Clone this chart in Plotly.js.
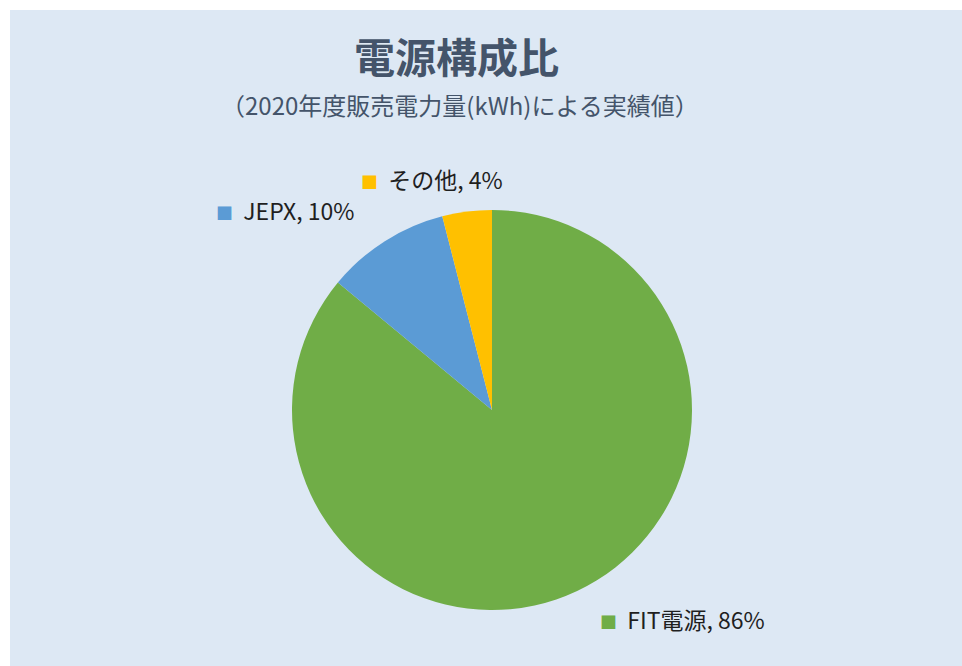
<!DOCTYPE html>
<html>
<head>
<meta charset="utf-8">
<script src="https://cdn.plot.ly/plotly-3.0.1.min.js"></script>
<style>
  html, body { margin: 0; padding: 0; background: #ffffff; }
  #chart { position: absolute; left: 10px; top: 10px; width: 952px; height: 656px; }
</style>
</head>
<body>
<div id="chart"></div>
<script>
const categories = ["FIT電源", "JEPX", "その他"];
const shares = [86, 10, 4];
const sliceColors = ["#70ad47", "#5b9bd5", "#ffc000"];
const chartTitle = "電源構成比";
const chartSubtitle = "（2020年度販売電力量(kWh)による実績値）";

const W = 952, H = 656;
const px = (x) => (x - 10) / W;
const py = (y) => (666 - y) / H;

// label anchor positions (left edge of marker, vertical middle) in page pixels
const labelPos = [[598, 619], [214, 210], [359, 179]];

const annotations = [
  { text: "<b>" + chartTitle + "</b>", x: px(456), y: py(55), xref: "paper", yref: "paper",
    xanchor: "center", yanchor: "middle", showarrow: false,
    font: { family: "Noto Sans CJK JP", size: 41, color: "#44546a" } },
  { text: chartSubtitle, x: px(460), y: py(105), xref: "paper", yref: "paper",
    xanchor: "center", yanchor: "middle", showarrow: false,
    font: { family: "Noto Sans CJK JP", size: 24, color: "#44546a" } }
];
categories.forEach((c, i) => {
  annotations.push({
    text: "<span style='color:" + sliceColors[i] + ";font-size:17px'>■</span>  " + c + ", " + shares[i] + "%",
    x: px(labelPos[i][0]), y: py(labelPos[i][1]), xref: "paper", yref: "paper",
    xanchor: "left", yanchor: "middle", showarrow: false,
    font: { family: "Noto Sans CJK JP", size: 23, color: "#1f1f1f" }
  });
});

const data = [{
  type: "pie",
  labels: categories,
  values: shares,
  sort: false,
  direction: "clockwise",
  rotation: 0,
  textinfo: "none",
  hoverinfo: "label+percent",
  marker: { colors: sliceColors, line: { width: 0 } },
  domain: { x: [px(292), px(692)], y: [py(610), py(210)] }
}];

const layout = {
  width: W, height: H,
  margin: { l: 0, r: 0, t: 0, b: 0 },
  paper_bgcolor: "#dde8f4",
  plot_bgcolor: "#dde8f4",
  showlegend: false,
  annotations: annotations
};

Plotly.newPlot("chart", data, layout, { displayModeBar: false, staticPlot: true });
</script>
</body>
</html>
